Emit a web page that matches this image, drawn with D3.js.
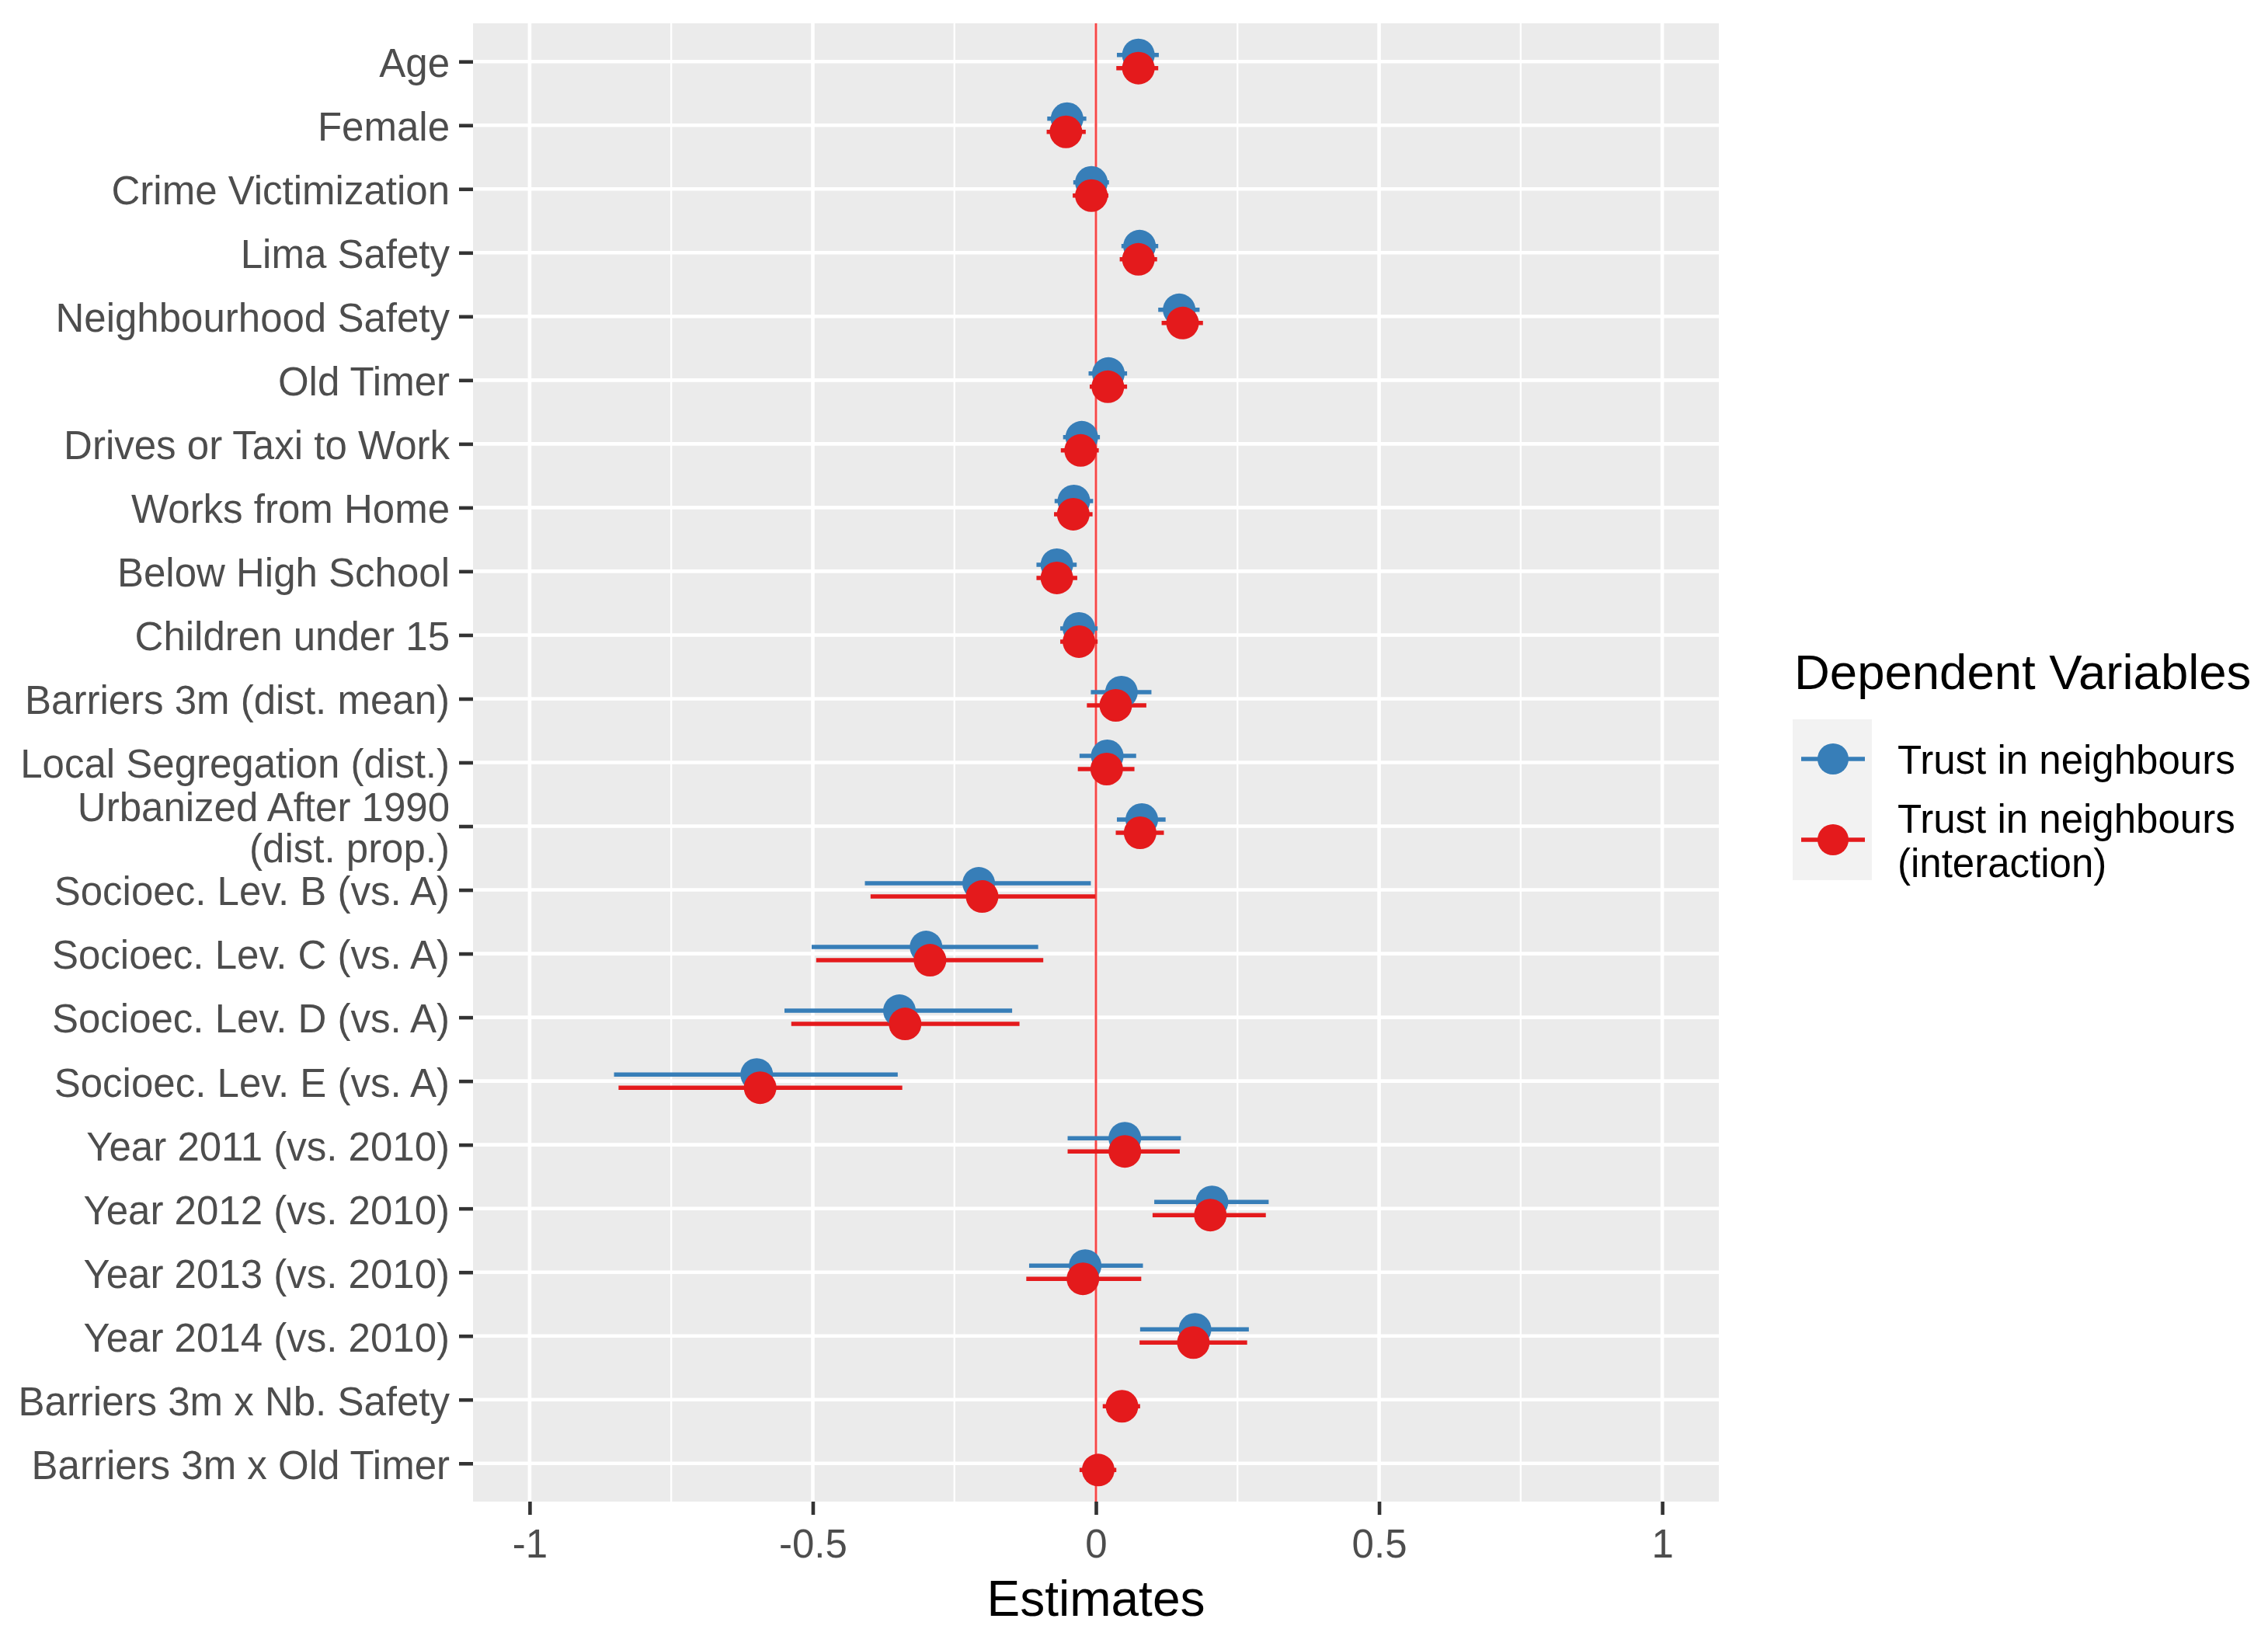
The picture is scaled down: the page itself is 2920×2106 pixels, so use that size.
<!DOCTYPE html>
<html>
<head>
<meta charset="utf-8">
<script src="https://cdn.jsdelivr.net/npm/d3@7"></script>
<style>
  body { margin: 0; background: #fff; }
  text { font-family: "Liberation Sans", Arial, sans-serif; }
</style>
</head>
<body>
<script>
// terms, top to bottom
const terms = [
  "Age", "Female", "Crime Victimization", "Lima Safety", "Neighbourhood Safety",
  "Old Timer", "Drives or Taxi to Work", "Works from Home", "Below High School",
  "Children under 15", "Barriers 3m (dist. mean)", "Local Segregation (dist.)",
  "Urbanized After 1990\n(dist. prop.)", "Socioec. Lev. B (vs. A)", "Socioec. Lev. C (vs. A)",
  "Socioec. Lev. D (vs. A)", "Socioec. Lev. E (vs. A)", "Year 2011 (vs. 2010)",
  "Year 2012 (vs. 2010)", "Year 2013 (vs. 2010)", "Year 2014 (vs. 2010)",
  "Barriers 3m x Nb. Safety", "Barriers 3m x Old Timer"
];

// model 1: Trust in neighbours
const est1 = [0.075, -0.051, -0.008, 0.077, 0.147, 0.022, -0.025, -0.039, -0.069, -0.030,
  0.045, 0.020, 0.081, -0.207, -0.300, -0.347, -0.599, 0.051, 0.205, -0.019, 0.175, null, null];
const lo1 = [0.037, -0.086, -0.040, 0.045, 0.110, -0.013, -0.058, -0.073, -0.105, -0.063,
  -0.009, -0.029, 0.037, -0.408, -0.502, -0.550, -0.851, -0.050, 0.103, -0.118, 0.078, null, null];
const hi1 = [0.111, -0.017, 0.023, 0.110, 0.183, 0.055, 0.007, -0.005, -0.034, 0.003,
  0.098, 0.071, 0.123, -0.009, -0.102, -0.148, -0.350, 0.150, 0.305, 0.083, 0.270, null, null];

// model 2: Trust in neighbours (interaction)
const est2 = [0.075, -0.053, -0.008, 0.075, 0.153, 0.021, -0.027, -0.040, -0.069, -0.030,
  0.035, 0.019, 0.078, -0.201, -0.293, -0.337, -0.593, 0.051, 0.202, -0.023, 0.172, 0.046, 0.004];
const lo2 = [0.036, -0.087, -0.041, 0.042, 0.116, -0.011, -0.062, -0.074, -0.105, -0.063,
  -0.016, -0.032, 0.035, -0.398, -0.494, -0.538, -0.843, -0.050, 0.100, -0.123, 0.077, 0.012, -0.029];
const hi2 = [0.110, -0.018, 0.022, 0.108, 0.189, 0.055, 0.005, -0.006, -0.033, 0.003,
  0.089, 0.068, 0.120, -0.001, -0.093, -0.135, -0.342, 0.148, 0.300, 0.080, 0.267, 0.078, 0.036];

const seriesNames = ["Trust in neighbours", "Trust in neighbours\n(interaction)"];
const seriesColors = ["#377EB8", "#E41A1C"];
const xTicks = [-1, -0.5, 0, 0.5, 1];
const xMinor = [-0.75, -0.25, 0.25, 0.75];

const W = 2920, H = 2106;
const panel = { left: 609, right: 2213, top: 30, bottom: 1933 };
const fs = 51;

const svg = d3.select("body").append("svg")
  .attr("width", W).attr("height", H);

const x = d3.scaleLinear().domain([-1.1, 1.1]).range([panel.left, panel.right]);
const y = d3.scalePoint().domain(terms).range([panel.top, panel.bottom]).padding(0.6);
const dodge = 8.5;

// panel background
svg.append("rect")
  .attr("x", panel.left).attr("y", panel.top)
  .attr("width", panel.right - panel.left).attr("height", panel.bottom - panel.top)
  .attr("fill", "#EBEBEB");

// grid
const grid = svg.append("g");
grid.selectAll(".minor").data(xMinor).enter().append("line")
  .attr("x1", d => x(d)).attr("x2", d => x(d))
  .attr("y1", panel.top).attr("y2", panel.bottom)
  .attr("stroke", "#fff").attr("stroke-width", 2.3);
grid.selectAll(".major").data(xTicks).enter().append("line")
  .attr("x1", d => x(d)).attr("x2", d => x(d))
  .attr("y1", panel.top).attr("y2", panel.bottom)
  .attr("stroke", "#fff").attr("stroke-width", 4.6);
grid.selectAll(".hrow").data(terms).enter().append("line")
  .attr("x1", panel.left).attr("x2", panel.right)
  .attr("y1", d => y(d)).attr("y2", d => y(d))
  .attr("stroke", "#fff").attr("stroke-width", 4.6);

// zero line
svg.append("line")
  .attr("x1", x(0)).attr("x2", x(0))
  .attr("y1", panel.top).attr("y2", panel.bottom)
  .attr("stroke", "#F54848").attr("stroke-width", 3);

// rows for each model
const models = [
  { est: est1, lo: lo1, hi: hi1, off: -dodge, color: seriesColors[0] },
  { est: est2, lo: lo2, hi: hi2, off: dodge, color: seriesColors[1] }
];
const rowsOf = m => terms.map((t, i) => ({ t, est: m.est[i], lo: m.lo[i], hi: m.hi[i] }))
  .filter(r => r.est !== null);

// error bars first, then points (layer order)
models.forEach(m => {
  svg.append("g").selectAll("line").data(rowsOf(m)).enter().append("line")
    .attr("x1", d => x(d.lo)).attr("x2", d => x(d.hi))
    .attr("y1", d => y(d.t) + m.off).attr("y2", d => y(d.t) + m.off)
    .attr("stroke", m.color).attr("stroke-width", 5.5);
});
models.forEach(m => {
  svg.append("g").selectAll("circle").data(rowsOf(m)).enter().append("circle")
    .attr("cx", d => x(d.est)).attr("cy", d => y(d.t) + m.off)
    .attr("r", 21).attr("fill", m.color);
});

// y axis
const yAxis = svg.append("g")
  .attr("transform", `translate(${panel.left},0)`)
  .call(d3.axisLeft(y).tickSize(18).tickPadding(12));
yAxis.select(".domain").remove();
yAxis.selectAll(".tick line").attr("stroke", "#333").attr("stroke-width", 4.6);
yAxis.selectAll(".tick text")
  .attr("fill", "#4D4D4D").attr("font-size", fs)
  .attr("font-family", "'Liberation Sans', Arial, sans-serif")
  .attr("dy", "0.38em")
  .each(function (d) {
    const parts = d.split("\n");
    if (parts.length > 1) {
      const t = d3.select(this).text("").attr("dy", null);
      parts.forEach((p, k) => {
        t.append("tspan").attr("x", -30)
          .attr("y", 19 + (k - (parts.length - 1) / 2) * 53)
          .text(p);
      });
    }
  });

// x axis
const xAxis = svg.append("g")
  .attr("transform", `translate(0,${panel.bottom})`)
  .call(d3.axisBottom(x).tickValues(xTicks).tickFormat(d => String(d))
    .tickSize(17).tickPadding(19));
xAxis.select(".domain").remove();
xAxis.selectAll(".tick line").attr("stroke", "#333").attr("stroke-width", 4.6);
xAxis.selectAll(".tick text")
  .attr("fill", "#4D4D4D").attr("font-size", fs)
  .attr("font-family", "'Liberation Sans', Arial, sans-serif");

svg.append("text")
  .attr("x", (panel.left + panel.right) / 2).attr("y", 2080)
  .attr("text-anchor", "middle").attr("font-size", 64).attr("fill", "#000")
  .text("Estimates");

// legend
const lg = svg.append("g");
lg.append("text").attr("x", 2310).attr("y", 887)
  .attr("font-size", 63.5).attr("fill", "#000").text("Dependent Variables");
lg.append("rect").attr("x", 2308).attr("y", 926).attr("width", 102).attr("height", 207)
  .attr("fill", "#F2F2F2");
const keyY = [977, 1081];
seriesNames.forEach((name, i) => {
  lg.append("line").attr("x1", 2319).attr("x2", 2401)
    .attr("y1", keyY[i]).attr("y2", keyY[i])
    .attr("stroke", seriesColors[i]).attr("stroke-width", 5.5);
  lg.append("circle").attr("cx", 2360).attr("cy", keyY[i]).attr("r", 20)
    .attr("fill", seriesColors[i]);
  const parts = name.split("\n");
  const t = lg.append("text").attr("font-size", fs).attr("fill", "#000");
  parts.forEach((p, k) => {
    t.append("tspan").attr("x", 2443)
      .attr("y", keyY[i] + 19 + (k - (parts.length - 1) / 2) * 57)
      .text(p);
  });
});
</script>
</body>
</html>
